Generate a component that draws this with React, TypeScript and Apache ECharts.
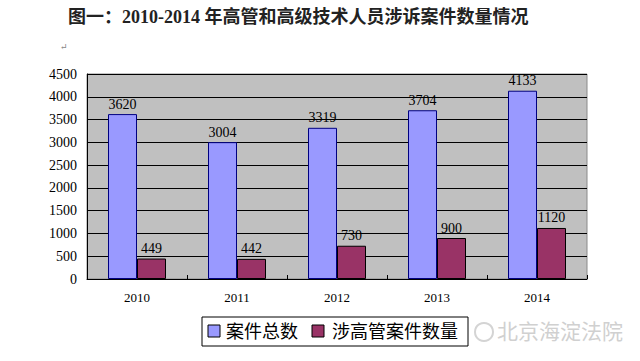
import React, { useEffect, useRef } from "react";
import * as echarts from "echarts";

const years = ["2010", "2011", "2012", "2013", "2014"];
const totalCases = [3620, 3004, 3319, 3704, 4133];
const execCases = [449, 442, 730, 900, 1120];
const seriesNames = ["案件总数", "涉高管案件数量"];
const titleText = "图一：2010-2014 年高管和高级技术人员涉诉案件数量情况";
const watermark = "北京海淀法院";

const SERIF = "'Liberation Serif', 'DejaVu Serif', 'Noto Sans CJK SC', serif";
const CJK = "'Noto Sans CJK SC', sans-serif";

export default function App() {
  const ref = useRef<HTMLDivElement>(null);
  useEffect(() => {
    const chart = echarts.init(ref.current!, null, { renderer: "svg" });
    chart.setOption({
      animation: false,
      backgroundColor: "#ffffff",
      grid: {
        left: 87,
        right: 53,
        top: 74,
        bottom: 82,
        show: true,
        backgroundColor: "#c0c0c0",
        borderColor: "#8a8a8a",
        borderWidth: 1,
      },
      legend: { show: false },
      xAxis: {
        type: "category",
        data: years,
        axisLine: { show: true, lineStyle: { color: "#000", width: 1 } },
        axisTick: { show: true, length: 4, inside: true, lineStyle: { color: "#000" } },
        axisLabel: { color: "#000", fontFamily: SERIF, fontSize: 13, margin: 12 },
        splitLine: { show: false },
      },
      yAxis: {
        type: "value",
        min: 0,
        max: 4500,
        interval: 500,
        axisLine: { show: true, lineStyle: { color: "#000", width: 1 } },
        axisTick: { show: false },
        axisLabel: {
          color: "#000",
          fontFamily: SERIF,
          fontSize: 14,
          margin: 10,
          formatter: (v: number) => String(v),
        },
        splitLine: { show: true, lineStyle: { color: "#000", width: 1 } },
      },
      series: [
        {
          name: seriesNames[0],
          type: "bar",
          data: totalCases,
          barGap: "0%",
          barCategoryGap: "42%",
          itemStyle: { color: "#9999ff", borderColor: "#000080", borderWidth: 1 },
          label: { show: true, position: "top", distance: 3, color: "#000", fontFamily: SERIF, fontSize: 14 },
        },
        {
          name: seriesNames[1],
          type: "bar",
          data: execCases,
          barGap: "0%",
          barCategoryGap: "42%",
          itemStyle: { color: "#993366", borderColor: "#000000", borderWidth: 1 },
          label: { show: true, position: "top", distance: 3, color: "#000", fontFamily: SERIF, fontSize: 14 },
        },
      ],
      graphic: [
        {
          type: "text",
          left: 68,
          top: 8,
          style: { text: titleText, font: `bold 18px ${SERIF}`, fill: "#222" },
        },
        {
          type: "text",
          left: 60,
          top: 42,
          style: { text: "↵", font: `9px ${SERIF}`, fill: "#888" },
        },
        {
          type: "rect",
          shape: { x: 202, y: 317, width: 266, height: 29 },
          style: { fill: "#ffffff", stroke: "#000", lineWidth: 1 },
        },
        {
          type: "rect",
          shape: { x: 208, y: 325, width: 12, height: 12 },
          style: { fill: "#9999ff", stroke: "#000", lineWidth: 1 },
        },
        {
          type: "text",
          left: 226,
          top: 321,
          style: { text: seriesNames[0], font: `18px ${CJK}`, fill: "#000" },
        },
        {
          type: "rect",
          shape: { x: 312, y: 325, width: 12, height: 12 },
          style: { fill: "#993366", stroke: "#000", lineWidth: 1 },
        },
        {
          type: "text",
          left: 332,
          top: 321,
          style: { text: seriesNames[1], font: `18px ${CJK}`, fill: "#000" },
        },
        {
          type: "text",
          left: 497,
          top: 319,
          style: { text: watermark, font: `21px ${CJK}`, fill: "#d0d0d0" },
        },
        {
          type: "circle",
          shape: { cx: 484, cy: 332, r: 9 },
          style: { fill: "none", stroke: "#d4d4d4", lineWidth: 2 },
        },
      ],
    });
    return () => chart.dispose();
  }, []);
  return <div ref={ref} style={{ width: 640, height: 361, position: "absolute", left: 0, top: 0 }} />;
}
